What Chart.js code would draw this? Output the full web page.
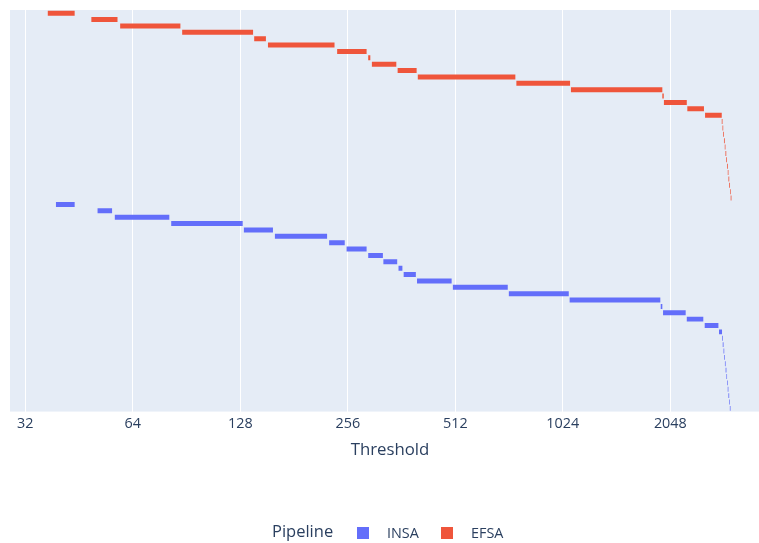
<!DOCTYPE html>
<html>
<head>
<meta charset="utf-8">
<script src="https://cdn.jsdelivr.net/npm/chart.js@4.4.1/dist/chart.umd.min.js"></script>
<style>
  body { margin: 0; background: #fff; overflow: hidden; font-family: "Open Sans", sans-serif; }
  #wrap { position: relative; width: 780px; height: 543px; }
  .lg { position: absolute; color: #2a3f5f; white-space: nowrap; }
  .sw { position: absolute; width: 12px; height: 12px; }
</style>
</head>
<body>
<div id="wrap">
  <canvas id="chart" width="780" height="543"></canvas>
  <span class="lg" style="left:272px;top:521px;font-size:16.5px;line-height:20px;">Pipeline</span>
  <span class="sw" style="left:357px;top:527px;background:#636EFA;"></span>
  <span class="lg" style="left:387px;top:524px;font-size:14.4px;line-height:18px;">INSA</span>
  <span class="sw" style="left:441px;top:527px;background:#EF553B;"></span>
  <span class="lg" style="left:471px;top:524px;font-size:14.4px;line-height:18px;">EFSA</span>
</div>
<script>
// threshold ranges per row (x is log2)
var efsaStart = [37, 49, 59, 88, 140, 153, 239, 292, 299, 353, 402, 759, 1079, 1945, 1965, 2285, 2562,
                 2853, 2867, 2880, 2894, 2909, 2922, 2937, 2951, 2966, 2979, 2994, 3009, 3022];
var efsaEnd   = [44, 58, 87, 139, 151, 235, 289, 296, 350, 399, 754, 1073, 1945, 1963, 2277, 2544, 2853,
                 2867, 2880, 2894, 2909, 2922, 2937, 2951, 2966, 2979, 2994, 3009, 3022, 3037];

var insaStart = [39, 51, 57, 82, 131, 160, 227, 254, 292, 322, 355, 367, 400, 504, 723, 1070, 1925, 1954, 2277, 2556, 2803,
                 2858, 2871, 2886, 2899, 2912, 2925, 2940, 2952, 2965, 2978, 2993, 3006];
var insaEnd   = [44, 56, 81, 130, 158, 224, 251, 289, 321, 352, 364, 397, 500, 718, 1064, 1920, 1945, 2261, 2533, 2792, 2858,
                 2871, 2886, 2899, 2912, 2925, 2940, 2952, 2965, 2978, 2993, 3006, 3019];

var tickVals = [32, 64, 128, 256, 512, 1024, 2048];

var labels = [];
var efsaData = [];
var insaData = [];
for (var i = 0; i < efsaStart.length; i++) {
  labels.push("EFSA " + (i + 1));
  efsaData.push([efsaStart[i], efsaEnd[i]]);
  insaData.push(null);
}
for (var j = 0; j < insaStart.length; j++) {
  labels.push("INSA " + (j + 1));
  efsaData.push(null);
  insaData.push([insaStart[j], insaEnd[j]]);
}

var plotBg = {
  id: 'plotBg',
  beforeDraw: function(chart) {
    var a = chart.chartArea, ctx = chart.ctx;
    ctx.save();
    ctx.fillStyle = '#E5ECF6';
    ctx.fillRect(a.left, a.top, a.right - a.left, a.bottom - a.top);
    ctx.restore();
  }
};

new Chart(document.getElementById("chart"), {
  type: 'bar',
  data: {
    labels: labels,
    datasets: [{
      label: "INSA",
      data: insaData,
      backgroundColor: "#636EFA",
      grouped: false,
      categoryPercentage: 1,
      barPercentage: 0.78
    }, {
      label: "EFSA",
      data: efsaData,
      backgroundColor: "#EF553B",
      grouped: false,
      categoryPercentage: 1,
      barPercentage: 0.78
    }]
  },
  options: {
    indexAxis: 'y',
    responsive: false,
    animation: false,
    layout: { padding: { left: 10, right: 10, top: 10, bottom: 79 } },
    plugins: { legend: { display: false }, tooltip: { enabled: false } },
    scales: {
      x: {
        type: 'logarithmic',
        min: 29,
        max: 3894,
        afterBuildTicks: function(scale) {
          scale.ticks = tickVals.map(function(v) { return { value: v }; });
        },
        ticks: {
          color: '#2a3f5f',
          font: { family: 'Open Sans', size: 14.4 },
          padding: 3.5,
          maxRotation: 0,
          autoSkip: false,
          callback: function(v) { return String(v); }
        },
        grid: { color: '#ffffff', lineWidth: 1, drawTicks: false },
        border: { display: false },
        title: {
          display: true,
          text: 'Threshold',
          color: '#2a3f5f',
          font: { family: 'Open Sans', size: 16.8 },
          padding: { top: 4, bottom: 4 }
        }
      },
      y: {
        display: false
      }
    }
  },
  plugins: [plotBg]
});
</script>
</body>
</html>
